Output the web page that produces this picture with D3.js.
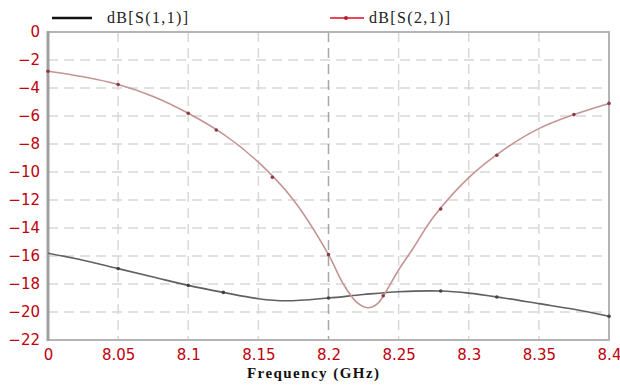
<!DOCTYPE html>
<html>
<head>
<meta charset="utf-8">
<script src="https://cdn.jsdelivr.net/npm/d3@7"></script>
<style>
    body { margin: 0; background: #fff; }
    svg { display: block; }
    .tick text { fill: #c0000a; font-family: "DejaVu Sans", sans-serif; font-size: 15px; }
</style>
</head>
<body>
<svg></svg>
<script>
// S21 and S11 (GHz, dB)
const s21Freq = [8.0, 8.025, 8.05, 8.075, 8.1, 8.125, 8.15, 8.175, 8.2, 8.21, 8.22, 8.228, 8.235, 8.24, 8.25, 8.26, 8.275, 8.3, 8.325, 8.35, 8.375, 8.4];
const s21dB = [-2.8, -3.2, -3.75, -4.6, -5.8, -7.3, -9.3, -12.0, -15.9, -17.9, -19.3, -19.7, -19.4, -18.7, -17.0, -15.5, -13.2, -10.4, -8.4, -6.9, -5.9, -5.1];
const s11Freq = [8.0, 8.025, 8.05, 8.075, 8.1, 8.125, 8.15, 8.17, 8.2, 8.225, 8.25, 8.28, 8.3, 8.325, 8.35, 8.375, 8.4];
const s11dB = [-15.8, -16.3, -16.9, -17.5, -18.1, -18.6, -19.05, -19.2, -19.0, -18.75, -18.55, -18.5, -18.65, -19.0, -19.4, -19.8, -20.3];
const s21Markers = [8.0, 8.05, 8.1, 8.12, 8.16, 8.2, 8.239, 8.28, 8.32, 8.375, 8.4];
const s11Markers = [8.05, 8.1, 8.125, 8.2, 8.28, 8.32, 8.4];
const xTicks = [8.0, 8.05, 8.1, 8.15, 8.2, 8.25, 8.3, 8.35, 8.4];
const xTickLabels = ["0", "8.05", "8.1", "8.15", "8.2", "8.25", "8.3", "8.35", "8.4"];
const yTicks = [0, -2, -4, -6, -8, -10, -12, -14, -16, -18, -20, -22];
const seriesNames = ["dB[S(1,1)]", "dB[S(2,1)]"];

const width = 620, height = 385;
const margin = {top: 32, right: 11, bottom: 45, left: 48};

const svg = d3.select("svg")
    .attr("width", width)
    .attr("height", height);

const x = d3.scaleLinear().domain([8.0, 8.4]).range([margin.left, width - margin.right]);
const y = d3.scaleLinear().domain([-22, 0]).range([height - margin.bottom, margin.top]);

// grid
svg.append("g")
    .selectAll("line")
    .data(yTicks.slice(1, -1))
    .enter().append("line")
    .attr("x1", x(8.0)).attr("x2", x(8.4))
    .attr("y1", d => y(d)).attr("y2", d => y(d))
    .attr("stroke", "#d8d8d8")
    .attr("stroke-width", 1.5)
    .attr("stroke-dasharray", "10,6");

svg.append("g")
    .selectAll("line")
    .data(xTicks.slice(1, -1))
    .enter().append("line")
    .attr("x1", d => x(d)).attr("x2", d => x(d))
    .attr("y1", y(0)).attr("y2", y(-22))
    .attr("stroke", d => d === 8.2 ? "#a8a8a8" : "#d8d8d8")
    .attr("stroke-width", 1.5)
    .attr("stroke-dasharray", "10,6");

// frame
svg.append("rect")
    .attr("x", x(8.0)).attr("y", y(0))
    .attr("width", x(8.4) - x(8.0))
    .attr("height", y(-22) - y(0))
    .attr("fill", "none")
    .attr("stroke", "#b4b4b4")
    .attr("stroke-width", 2);
svg.append("line")
    .attr("x1", x(8.0)).attr("x2", x(8.0))
    .attr("y1", y(0) - 1).attr("y2", y(-22) + 1)
    .attr("stroke", "#a0a0a0")
    .attr("stroke-width", 3);

// axes
const xAxis = svg.append("g")
    .attr("transform", `translate(0,${y(-22)})`)
    .call(d3.axisBottom(x).tickValues(xTicks).tickSize(0).tickPadding(6)
        .tickFormat((d, i) => xTickLabels[i]));
xAxis.select(".domain").remove();
xAxis.selectAll(".tick text").attr("dy", "0.9em");

const yAxis = svg.append("g")
    .attr("transform", `translate(${x(8.0)},0)`)
    .call(d3.axisLeft(y).tickValues(yTicks).tickSize(0).tickPadding(8));
yAxis.select(".domain").remove();

// curves
const line = d3.line().curve(d3.curveCatmullRom.alpha(0.5));

const s11 = s11Freq.map((f, i) => [x(f), y(s11dB[i])]);
const s21 = s21Freq.map((f, i) => [x(f), y(s21dB[i])]);

svg.append("path")
    .attr("d", line(s11))
    .attr("fill", "none")
    .attr("stroke", "#606060")
    .attr("stroke-width", 1.6);

svg.append("path")
    .attr("d", line(s21))
    .attr("fill", "none")
    .attr("stroke", "#c49494")
    .attr("stroke-width", 1.6);

function interp(freqs, vals, f) {
    const i = Math.min(d3.bisectRight(freqs, f), freqs.length - 1);
    if (i === 0) return vals[0];
    const t = (f - freqs[i - 1]) / (freqs[i] - freqs[i - 1]);
    return vals[i - 1] + t * (vals[i] - vals[i - 1]);
}

svg.append("g")
    .selectAll("circle")
    .data(s11Markers)
    .enter().append("circle")
    .attr("cx", d => x(d))
    .attr("cy", d => y(interp(s11Freq, s11dB, d)))
    .attr("r", 1.8)
    .attr("fill", "#444");

svg.append("g")
    .selectAll("circle")
    .data(s21Markers)
    .enter().append("circle")
    .attr("cx", d => x(d))
    .attr("cy", d => y(interp(s21Freq, s21dB, d)))
    .attr("r", 1.8)
    .attr("fill", "#8a3b45");

// legend
const legend = svg.append("g").attr("font-family", "'Liberation Serif', 'Times New Roman', serif").attr("font-size", 16);
legend.append("line").attr("x1", 52).attr("x2", 92).attr("y1", 18).attr("y2", 18)
    .attr("stroke", "#111").attr("stroke-width", 2.5);
legend.append("text").attr("x", 107).attr("y", 23).attr("fill", "#222")
    .attr("textLength", 81).attr("lengthAdjust", "spacing").text(seriesNames[0]);
legend.append("line").attr("x1", 330).attr("x2", 364).attr("y1", 18).attr("y2", 18)
    .attr("stroke", "#e8485a").attr("stroke-width", 2);
legend.append("circle").attr("cx", 346).attr("cy", 18).attr("r", 2).attr("fill", "#b02030");
legend.append("text").attr("x", 369).attr("y", 23).attr("fill", "#222")
    .attr("textLength", 81).attr("lengthAdjust", "spacing").text(seriesNames[1]);

// x label
svg.append("text")
    .attr("x", 313)
    .attr("y", 378)
    .attr("text-anchor", "middle")
    .attr("font-family", "'Liberation Serif', 'Times New Roman', serif")
    .attr("font-weight", "bold")
    .attr("font-size", 15)
    .attr("fill", "#111")
    .attr("textLength", 132)
    .attr("lengthAdjust", "spacing")
    .text("Frequency (GHz)");
</script>
</body>
</html>
